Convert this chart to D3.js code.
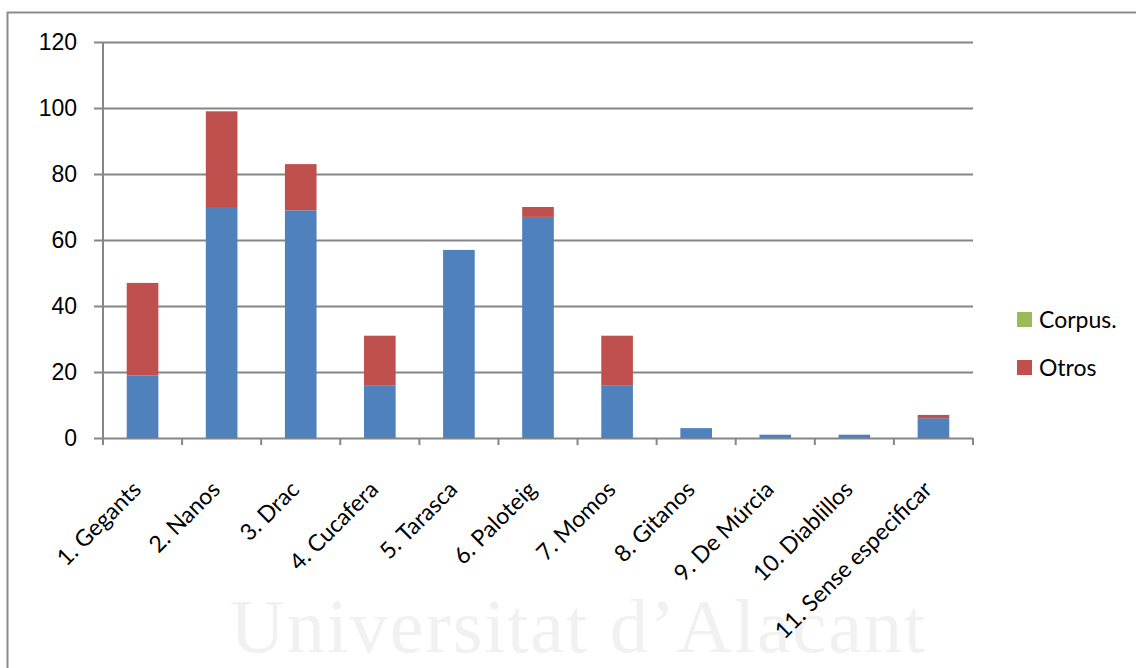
<!DOCTYPE html>
<html>
<head>
<meta charset="utf-8">
<script src="https://cdn.jsdelivr.net/npm/d3@7"></script>
<style>
  body { margin: 0; background: #fff; }
  svg { display: block; font-family: Lato, "Open Sans", sans-serif; }
</style>
</head>
<body>
<div id="chart"></div>
<script>
// data
const categories = ['1. Gegants', '2. Nanos', '3. Drac', '4. Cucafera', '5. Tarasca', '6. Paloteig',
  '7. Momos', '8. Gitanos', '9. De Múrcia', '10. Diablillos', '11. Sense especificar'];
const baseValues = [19, 70, 69, 16, 57, 67, 16, 3, 1, 1, 6];
const corpusValues = [0, 0, 0, 0, 0, 0, 0, 0, 0, 0, 0];
const otrosValues = [28, 29, 14, 15, 0, 3, 15, 0, 0, 0, 1];
const yTicks = [0, 20, 40, 60, 80, 100, 120];

const seriesKeys = ['base', 'corpus', 'otros'];
const colors = { base: '#4F81BD', corpus: '#9BBB59', otros: '#C0504D' };
const legendItems = [{ key: 'corpus', label: 'Corpus.' }, { key: 'otros', label: 'Otros' }];

const width = 1136, height = 668;
const margin = { top: 42, left: 103, right: 163, bottom: 230 };
const chartWidth = width - margin.left - margin.right;
const chartHeight = height - margin.top - margin.bottom;

const svg = d3.select('#chart').append('svg')
  .attr('width', width)
  .attr('height', height);

// outer chart frame (runs off the page at right and bottom)
svg.append('rect')
  .attr('x', 7.5).attr('y', 12.5)
  .attr('width', 1300).attr('height', 800)
  .attr('fill', 'none')
  .attr('stroke', '#8c8c8c')
  .attr('stroke-width', 2);

// faint watermark
svg.append('text')
  .attr('x', 230).attr('y', 652)
  .attr('textLength', 695)
  .style('font-family', '"Liberation Serif", "DejaVu Serif", serif')
  .style('font-size', '76px')
  .attr('fill', '#f1f1f1')
  .text('Universitat d’Alacant');

const chart = svg.append('g')
  .attr('transform', `translate(${margin.left},${margin.top})`);

const rows = categories.map((c, i) => ({
  cat: c, base: baseValues[i], corpus: corpusValues[i], otros: otrosValues[i]
}));
const stacked = d3.stack().keys(seriesKeys)(rows);

const xScale = d3.scaleBand()
  .domain(categories)
  .range([0, chartWidth])
  .paddingInner(0.6)
  .paddingOuter(0.3);
const yScale = d3.scaleLinear()
  .domain([0, 120])
  .range([chartHeight, 0]);

// gridlines + y axis labels
const yAxis = d3.axisLeft(yScale)
  .tickValues(yTicks)
  .tickSize(-chartWidth - 9)
  .tickPadding(17)
  .tickFormat(d3.format('d'));
const gy = chart.append('g')
  .attr('class', 'y axis')
  .attr('transform', 'translate(-9,0)')
  .call(yAxis);
gy.select('.domain').remove();
gy.selectAll('line').attr('stroke', '#868686').attr('stroke-width', 2);
gy.selectAll('text')
  .attr('x', -17)
  .style('font-size', '23px')
  .attr('fill', '#000');

// vertical axis line
chart.append('line')
  .attr('x1', 0).attr('x2', 0)
  .attr('y1', 0).attr('y2', chartHeight + 7)
  .attr('stroke', '#868686').attr('stroke-width', 2);

// bars
chart.selectAll('.series')
  .data(stacked)
  .enter()
  .append('g')
  .attr('class', 'series')
  .attr('fill', d => colors[d.key])
  .selectAll('rect')
  .data(d => d)
  .enter()
  .append('rect')
  .attr('x', d => xScale(d.data.cat))
  .attr('y', d => yScale(d[1]))
  .attr('width', xScale.bandwidth())
  .attr('height', d => yScale(d[0]) - yScale(d[1]));

// category boundary ticks on the x axis
const step = xScale.step();
const boundaries = d3.range(categories.length + 1);
chart.selectAll('.xtick')
  .data(boundaries)
  .enter()
  .append('line')
  .attr('x1', d => d * step).attr('x2', d => d * step)
  .attr('y1', chartHeight).attr('y2', chartHeight + 7)
  .attr('stroke', '#868686').attr('stroke-width', 2);

// rotated category labels
chart.selectAll('.xlabel')
  .data(categories)
  .enter()
  .append('text')
  .attr('class', 'xlabel')
  .attr('transform', d => {
    const cx = xScale(d) + xScale.bandwidth() / 2;
    return `translate(${cx},${chartHeight + 53}) rotate(-45)`;
  })
  .attr('text-anchor', 'end')
  .style('font-size', '23px')
  .attr('fill', '#000')
  .text(d => d);

// legend
const legend = svg.append('g')
  .attr('transform', 'translate(1017,312)');
const li = legend.selectAll('g')
  .data(legendItems)
  .enter()
  .append('g')
  .attr('transform', (d, i) => `translate(0,${i * 48})`);
li.append('rect')
  .attr('width', 15).attr('height', 15)
  .attr('fill', d => colors[d.key]);
li.append('text')
  .attr('x', 22).attr('y', 16)
  .style('font-size', '23px')
  .attr('fill', '#000')
  .text(d => d.label);
</script>
</body>
</html>
